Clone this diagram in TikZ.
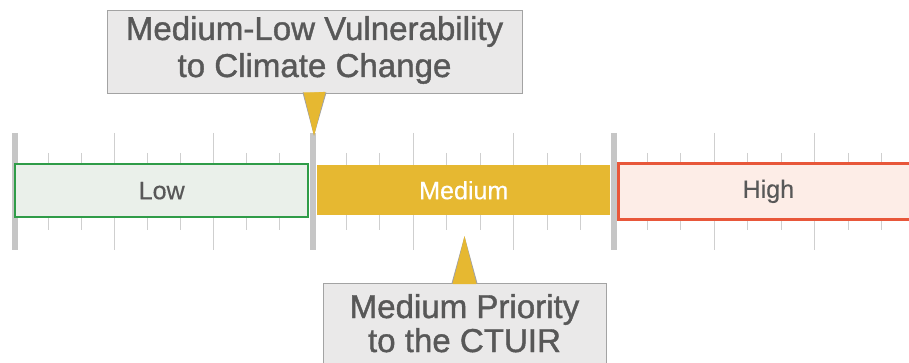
\documentclass[tikz,border=0pt]{standalone}
\usepackage{fontspec}
\setmainfont{Liberation Sans}
\newfontfamily\callfont[FakeBold=1.2]{Liberation Sans}
\newfontfamily\bandfont[FakeBold=0.4]{Liberation Sans}
\definecolor{tickgray}{HTML}{CFCFCF}
\definecolor{majorgray}{HTML}{C6C6C6}
\definecolor{lowfill}{HTML}{EAF0EA}
\definecolor{lowline}{HTML}{2F9C48}
\definecolor{medfill}{HTML}{E6B831}
\definecolor{highfill}{HTML}{FDEDE7}
\definecolor{highline}{HTML}{E8573A}
\definecolor{callfill}{HTML}{EAE9E9}
\definecolor{callline}{HTML}{A3A3A3}
\definecolor{textgray}{HTML}{585858}
\begin{document}
\begin{tikzpicture}[x=0.75pt,y=-0.75pt,
  majortick/.style={draw=majorgray,line width=3.8pt},
  midtick/.style={draw=tickgray,line width=0.8pt},
  smalltick/.style={draw=tickgray,line width=0.8pt},
  band/.style={rectangle,inner sep=0pt,anchor=north west,font=\bandfont\fontsize{18.8}{20}\selectfont,text=textgray},
  callout/.style={rectangle,inner sep=0pt,anchor=north west,fill=callfill,draw=callline,line width=1pt},
  calltext/.style={anchor=base,font=\callfont\fontsize{24.8}{27}\selectfont,text=textgray,inner sep=0pt},
  pointer/.style={fill=medfill,draw=callline,line width=0.7pt,line join=miter}]
\useasboundingbox (0,0) rectangle (909,363);
\clip (0,0) rectangle (909,363);
\fill[white] (0,0) rectangle (909,363);
% ticks
\foreach \a/\b in {15/313,313/614,614/915}{
  \foreach \i in {1,2,4,5,7,8}{
    \draw[smalltick] ({\a+(\b-\a)*\i/9},153) -- ({\a+(\b-\a)*\i/9},230);
  }
  \foreach \i in {3,6}{
    \draw[midtick] ({\a+(\b-\a)*\i/9},133) -- ({\a+(\b-\a)*\i/9},250);
  }
}
\foreach \x in {15,313,614,912}{
  \draw[majortick] (\x,133) -- (\x,250);
}
% bands
\node[band,draw=lowline,line width=1.8pt,fill=lowfill,minimum width=293*0.75pt,minimum height=53*0.75pt] (low) at (14,163) {Low};
\node[band,fill=medfill,text=white,minimum width=293*0.75pt,minimum height=50*0.75pt] (med) at (317,165) {Medium};
\node[band,draw=highline,line width=2pt,fill=highfill,minimum width=300*0.75pt,minimum height=56*0.75pt] (high) at (617,162) {High};
% top callout
\node[callout,minimum width=415*0.75pt,minimum height=83*0.75pt] (topbox) at (107,10) {};
\node[calltext] (topl1) at (314.5,40) {Medium-Low Vulnerability};
\node[calltext] (topl2) at (314.5,77) {to Climate Change};
\coordinate (ta) at (303,92.5);
\coordinate (tb) at (326,92.5);
\coordinate (tc) at (314,134);
\draw[pointer] (ta) -- (tc) -- (tb);
\fill[medfill] (ta) ++(1,0.6) -- ([yshift=-2*0.75pt]tc) -- ([xshift=-0.75pt,yshift=0.45pt]tb) -- cycle;
% bottom callout
\node[callout,minimum width=283*0.75pt,minimum height=100*0.75pt] (botbox) at (323,283) {};
\node[calltext] (botl1) at (464.5,318) {Medium Priority};
\node[calltext] (botl2) at (464.5,352) {to the CTUIR};
\coordinate (ba) at (452,283.5);
\coordinate (bb) at (477,283.5);
\coordinate (bc) at (464.5,238);
\draw[pointer] (ba) -- (bc) -- (bb);
\fill[medfill] ([xshift=0.75pt,yshift=-0.45pt]ba) -- ([yshift=2*0.75pt]bc) -- ([xshift=-0.75pt,yshift=-0.45pt]bb) -- cycle;
\end{tikzpicture}
\end{document}
